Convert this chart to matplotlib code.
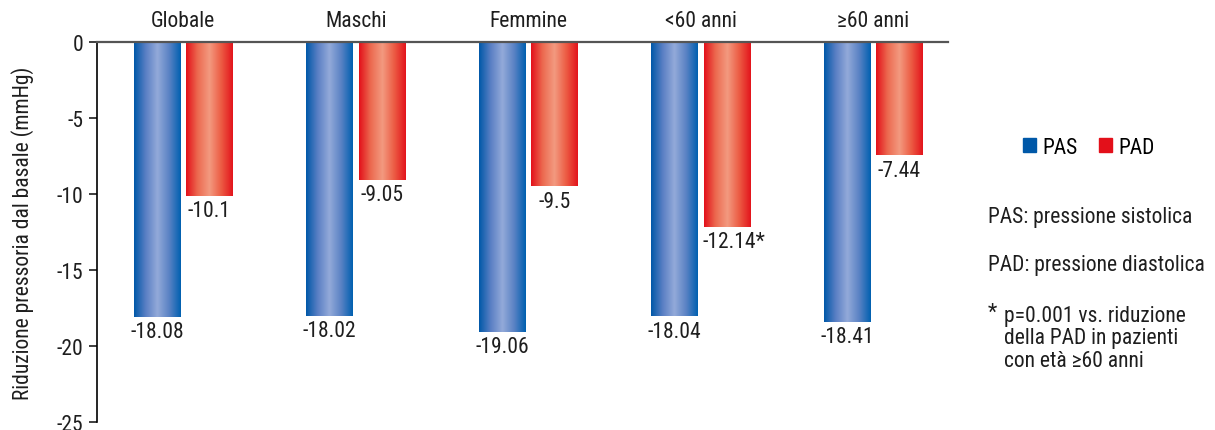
import numpy as np
import matplotlib
matplotlib.use("Agg")
from matplotlib import pyplot as plt
from matplotlib.colors import LinearSegmentedColormap
from matplotlib.patches import Patch

plt.rcParams['font.family'] = ['Roboto Condensed', 'DejaVu Sans']
plt.rcParams['font.size'] = 15

categories = ['Globale', 'Maschi', 'Femmine', '<60 anni', '≥60 anni']
pas = [-18.08, -18.02, -19.06, -18.04, -18.41]
pad = [-10.1, -9.05, -9.5, -12.14, -7.44]
pas_labels = ['-18.08', '-18.02', '-19.06', '-18.04', '-18.41']
pad_labels = ['-10.1', '-9.05', '-9.5', '-12.14*', '-7.44']
yticks = [0, -5, -10, -15, -20, -25]

FS = 15.5
TXT = '#1e1e1e'

# cylinder-like shading across each bar
blue_cm = LinearSegmentedColormap.from_list('b', ['#0058a8', '#5a7fc4', '#93aad9', '#5a82c4', '#0060b0'])
red_cm = LinearSegmentedColormap.from_list('r', ['#e3101a', '#ec6a50', '#f39a80', '#ec5c44', '#e3141c'])

fig = plt.figure(figsize=(12.15, 4.31), dpi=100)
ax = fig.add_axes([97 / 1215, 8 / 431, 851 / 1215, 380 / 431])

x = np.arange(len(categories))
w = 0.272
off = 0.152

grad = np.linspace(0, 1, 256).reshape(1, -1)

def shade(bars, cmap):
    for b in bars:
        b.set_facecolor('none')
        x0, y0 = b.get_x(), b.get_y()
        im = ax.imshow(grad, cmap=cmap, aspect='auto', interpolation='bilinear',
                       extent=[x0, x0 + b.get_width(), y0, y0 + b.get_height()], zorder=2)
        im.set_clip_path(b)

b1 = ax.bar(x - off, pas, w, color='#0058a8', linewidth=0, zorder=2)
b2 = ax.bar(x + off, pad, w, color='#e3101a', linewidth=0, zorder=2)
shade(b1, blue_cm)
shade(b2, red_cm)

for xi, v, t in zip(x, pas, pas_labels):
    ax.text(xi - off, v - 0.3, t, ha='center', va='top', fontsize=FS, color=TXT)
for xi, v, t in zip(x, pad, pad_labels):
    lx = xi + off + (0.04 if t.endswith('*') else 0)
    ax.text(lx, v - 0.3, t, ha='center', va='top', fontsize=FS, color=TXT)

for xi, c in zip(x, categories):
    ax.text(xi, 0.7, c, ha='center', va='bottom', fontsize=FS, color=TXT)

ax.set_xlim(-0.5, 4.433)
ax.set_ylim(-25, 0)
ax.set_yticks(yticks)
ax.set_yticklabels([str(t) for t in yticks], fontsize=FS)
ax.set_xticks([])
ax.tick_params(axis='y', direction='out', length=6, width=1.2, pad=4, colors=TXT)
for s in ['right', 'bottom']:
    ax.spines[s].set_visible(False)
ax.spines['left'].set_linewidth(1.2)
ax.spines['top'].set_linewidth(1.6)
ax.spines['top'].set_color('#555555')
ax.set_ylabel('Riduzione pressoria dal basale (mmHg)', fontsize=FS, labelpad=16, color=TXT)

handles = [Patch(color='#0058a8', label='PAS'), Patch(color='#e3101a', label='PAD')]
fig.legend(handles=handles, loc='center', bbox_to_anchor=(1089 / 1215, 1 - 148 / 431), ncol=2,
           frameon=False, fontsize=FS, handlelength=0.6, handleheight=0.6,
           handletextpad=0.3, columnspacing=1.0)

fig.text(988 / 1215, 1 - 218 / 431, 'PAS: pressione sistolica', fontsize=FS, va='center', color=TXT)
fig.text(988 / 1215, 1 - 266 / 431, 'PAD: pressione diastolica', fontsize=FS, va='center', color=TXT)
fig.text(988 / 1215, 1 - 313 / 431, '*', fontsize=FS, va='center', color=TXT)
fig.text(1004 / 1215, 1 - 339 / 431, 'p=0.001 vs. riduzione\ndella PAD in pazienti\ncon età ≥60 anni',
         fontsize=FS, va='center', linespacing=1.12, color=TXT)

fig.savefig('out.png', dpi=100)
